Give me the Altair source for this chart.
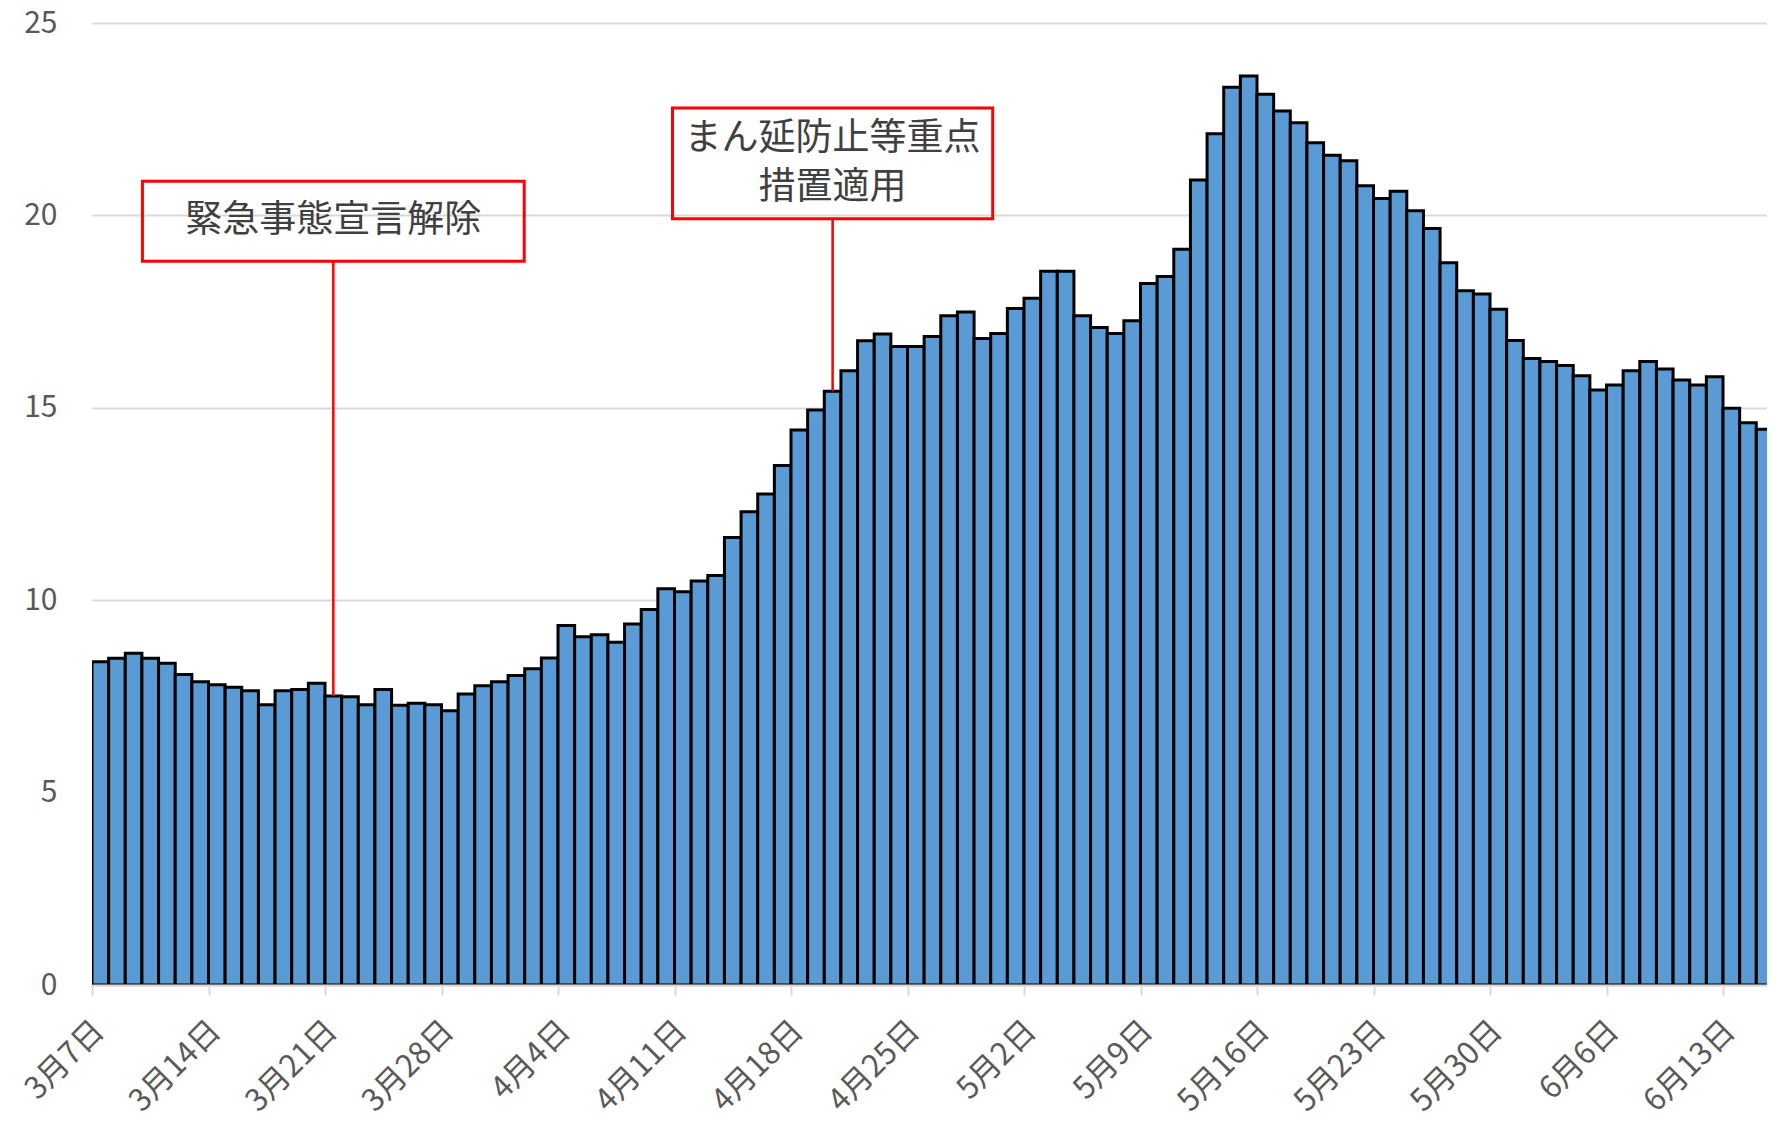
import json
import altair as alt
import pandas as pd

# ---------------- data ----------------
START_DATE = "2021-03-07"

# daily values, 3/7 - 3/31
MARCH = [8.40, 8.49, 8.62, 8.49, 8.36, 8.07, 7.88, 7.80, 7.74, 7.65,
         7.28, 7.65, 7.68, 7.84, 7.51, 7.49, 7.28, 7.68, 7.27, 7.32,
         7.28, 7.13, 7.56, 7.78, 7.88]
# 4/1 - 4/30
APRIL = [8.04, 8.22, 8.50, 9.34, 9.05, 9.10, 8.91, 9.38, 9.76, 10.30,
         10.22, 10.50, 10.64, 11.63, 12.30, 12.76, 13.50, 14.42, 14.94, 15.43,
         15.96, 16.74, 16.92, 16.59, 16.59, 16.85, 17.39, 17.49, 16.80, 16.93]
# 5/1 - 5/31
MAY = [17.58, 17.85, 18.55, 18.55, 17.39, 17.09, 16.93, 17.26, 18.23, 18.41,
       19.12, 20.92, 22.12, 23.33, 23.62, 23.15, 22.71, 22.41, 21.89, 21.56,
       21.42, 20.77, 20.44, 20.63, 20.12, 19.66, 18.77, 18.04, 17.96, 17.56,
       16.75]
# 6/1 - 6/16
JUNE = [16.28, 16.20, 16.10, 15.83, 15.46, 15.59, 15.96, 16.20, 16.01, 15.72,
        15.59, 15.81, 14.99, 14.61, 14.44, 14.55]

TICK_LABELS = ["3月7日", "3月14日", "3月21日", "3月28日", "4月4日", "4月11日",
               "4月18日", "4月25日", "5月2日", "5月9日", "5月16日", "5月23日",
               "5月30日", "6月6日", "6月13日"]
Y_TICKS = [0, 5, 10, 15, 20, 25]

EVENT_DATES = ["2021-03-21", "2021-04-20"]
EVENT_LINES = [["緊急事態宣言解除"], ["まん延防止等重点", "措置適用"]]

# ---------------- build tables ----------------
values = MARCH + APRIL + MAY + JUNE
dates = pd.date_range(START_DATE, periods=len(values), freq="D")
day_idx = list(range(len(values)))
df = pd.DataFrame({
    "day": day_idx,
    "day_end": [d + 1 for d in day_idx],
    "value": values,
    "date": [f"{d.month}月{d.day}日" for d in dates],
})

# annotation box layout (half-width in days, top / bottom in value units)
BOX_LAYOUT = [
    {"half": 11.47, "top": 20.89, "bottom": 18.81},
    {"half": 9.62, "top": 22.79, "bottom": 19.91},
]
LINE_STEP = 1.25  # text line spacing in value units

rows, text_rows = [], []
start = pd.Timestamp(START_DATE)
for dstr, lines, lay in zip(EVENT_DATES, EVENT_LINES, BOX_LAYOUT):
    d = (pd.Timestamp(dstr) - start).days
    cx = d + 0.5
    mid = (lay["top"] + lay["bottom"]) / 2
    rows.append({
        "cx": cx,
        "x1": cx - lay["half"],
        "x2": cx + lay["half"],
        "top": lay["top"],
        "bottom": lay["bottom"],
        "bar": values[d],
    })
    n = len(lines)
    for i, ln in enumerate(lines):
        text_rows.append({
            "cx": cx,
            "ty": mid + (n - 1) / 2 * LINE_STEP - i * LINE_STEP,
            "label": ln,
        })
ann = pd.DataFrame(rows)
ann_text = pd.DataFrame(text_rows)

# ---------------- chart ----------------
FONT = "Noto Sans CJK JP"
PX_PER_DAY = 16.643
PLOT_W = 1675
PLOT_H = 962

x_scale = alt.Scale(domain=[0, PLOT_W / PX_PER_DAY], nice=False, zero=False)
y_scale = alt.Scale(domain=[0, 25], nice=False)

label_expr = json.dumps(TICK_LABELS, ensure_ascii=False) + "[round(datum.value / 7)]"

x_axis = alt.Axis(
    values=[7 * i for i in range(len(TICK_LABELS))],
    labelExpr=label_expr,
    title=None,
    grid=False,
    domainColor="#D9D9D9",
    domainWidth=2,
    tickColor="#D9D9D9",
    tickWidth=2,
    tickSize=10,
    labelAngle=-45,
    labelAlign="right",
    labelBaseline="middle",
    labelPadding=31,
    labelOffset=7,
    labelFontSize=31,
    labelFont=FONT,
    labelColor="#595959",
    labelOverlap=False,
    zindex=1,
)
y_axis = alt.Axis(
    values=Y_TICKS,
    title=None,
    grid=True,
    gridColor="#D9D9D9",
    gridWidth=2,
    domain=False,
    ticks=False,
    labelPadding=35,
    labelFontSize=30,
    labelFont=FONT,
    labelColor="#595959",
)

bars = alt.Chart(df).mark_bar(
    fill="#5B9BD5", stroke="#000000", strokeWidth=3, strokeJoin="miter", clip=True
).encode(
    x=alt.X("day:Q", scale=x_scale, axis=x_axis),
    x2="day_end:Q",
    y=alt.Y("value:Q", scale=y_scale, axis=y_axis),
    y2=alt.datum(0),
)

boxes = alt.Chart(ann).mark_rect(
    fill="white", fillOpacity=0, stroke="#FF0000", strokeWidth=3
).encode(
    x=alt.X("x1:Q", scale=x_scale),
    x2="x2:Q",
    y=alt.Y("top:Q", scale=y_scale),
    y2="bottom:Q",
)

leaders = alt.Chart(ann).mark_rule(color="#FF0000", strokeWidth=2.5).encode(
    x=alt.X("cx:Q", scale=x_scale),
    y=alt.Y("bottom:Q", scale=y_scale),
    y2="bar:Q",
)

texts = alt.Chart(ann_text).mark_text(
    font=FONT, fontSize=37, color="#404040", align="center", baseline="middle"
).encode(
    x=alt.X("cx:Q", scale=x_scale),
    y=alt.Y("ty:Q", scale=y_scale),
    text="label:N",
)

chart = alt.layer(bars, leaders, boxes, texts).properties(
    width=PLOT_W,
    height=PLOT_H,
    autosize=alt.AutoSizeParams(type="none"),
    padding={"left": 84, "top": 15, "right": 0, "bottom": 127},
    background="white",
).configure_view(stroke=None)

chart.save("out.html", embed_options={"renderer": "svg", "actions": False})
